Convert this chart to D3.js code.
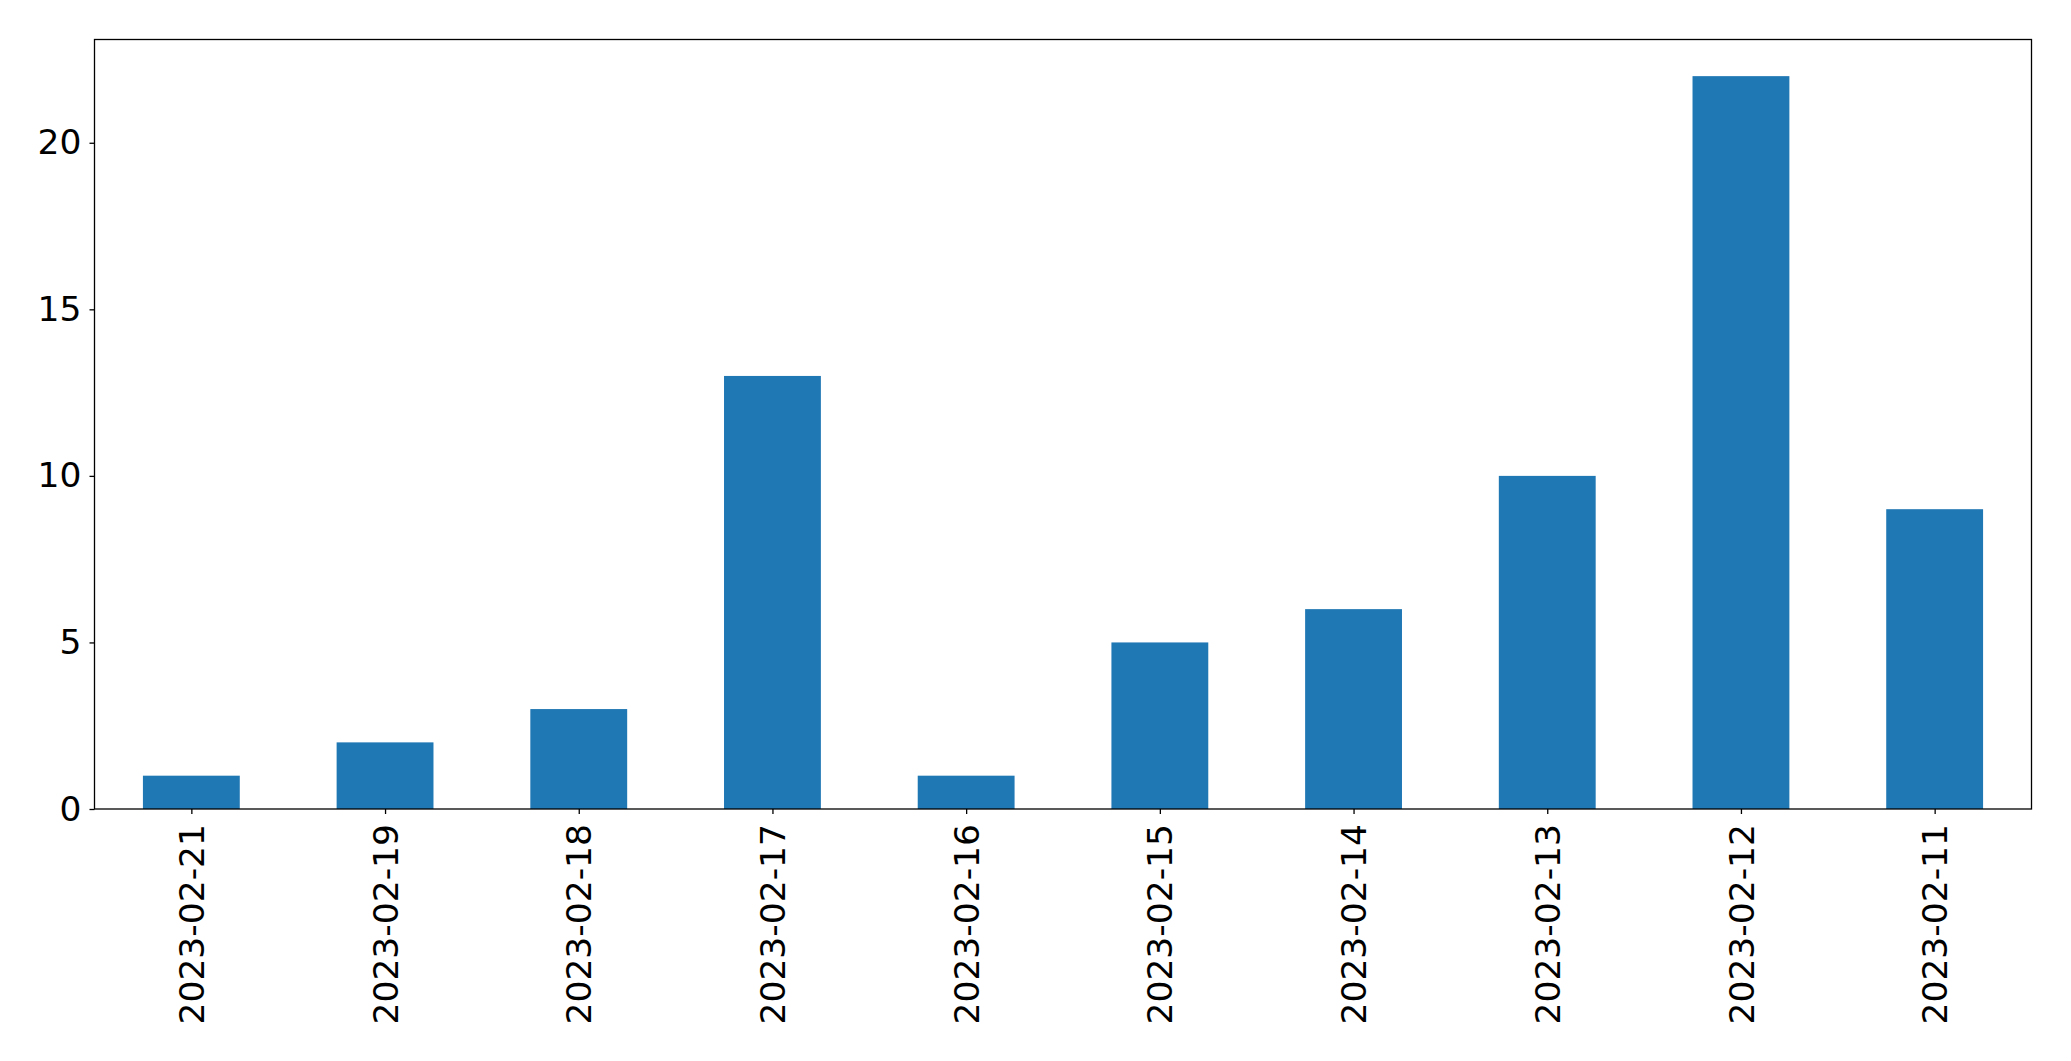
<!DOCTYPE html>
<html><head><meta charset="utf-8">
<script src="https://cdn.jsdelivr.net/npm/d3@7"></script>
<style>html,body{margin:0;padding:0;background:#fff;}svg{display:block;}</style>
</head><body>
<svg id="chart" width="2071" height="1061"></svg>
<script>
const categories = ["2023-02-21","2023-02-19","2023-02-18","2023-02-17","2023-02-16","2023-02-15","2023-02-14","2023-02-13","2023-02-12","2023-02-11"];
const values = [1,2,3,13,1,5,6,10,22,9];
const yTicks = [0,5,10,15,20];

const W = 2071, H = 1061;
const m = {left: 94.5, right: 2031.5, top: 39.5, bottom: 809};
const svg = d3.select("#chart");
const fontSize = 34.5;

const x = d3.scaleLinear().domain([-0.5, categories.length - 0.5]).range([m.left, m.right]);
const y = d3.scaleLinear().domain([0, 22 * 1.05]).range([m.bottom, m.top]);
const bw = 0.5;

svg.append("g").selectAll("rect").data(values).join("rect")
  .attr("x", (d,i) => x(i - bw/2))
  .attr("width", (d,i) => x(i + bw/2) - x(i - bw/2))
  .attr("y", d => y(d))
  .attr("height", d => y(0) - y(d))
  .attr("fill", "#1f77b4");

// Y axis
const yAxis = d3.axisLeft(y).tickValues(yTicks).tickSize(5).tickPadding(8).tickFormat(d3.format("d"));
const gy = svg.append("g").attr("transform", `translate(${m.left},0)`).call(yAxis);
gy.select(".domain").remove();
gy.selectAll("line").attr("stroke","#000").attr("stroke-width",1.3);
gy.selectAll("text").attr("font-family","DejaVu Sans").attr("font-size",fontSize).attr("fill","#000");

// X axis
const xAxis = d3.axisBottom(x).tickValues(d3.range(categories.length)).tickSize(5).tickFormat(i => categories[i]);
const gx = svg.append("g").attr("transform", `translate(0,${m.bottom})`).call(xAxis);
gx.select(".domain").remove();
gx.selectAll("line").attr("stroke","#000").attr("stroke-width",1.3);
gx.selectAll("text")
  .attr("font-family","DejaVu Sans").attr("font-size",fontSize).attr("fill","#000")
  .attr("transform","rotate(-90)")
  .attr("text-anchor","end")
  .attr("x", -15).attr("y", 0).attr("dy","0.35em");

// Frame
svg.append("rect").attr("x", m.left).attr("y", m.top)
  .attr("width", m.right - m.left).attr("height", m.bottom - m.top)
  .attr("fill","none").attr("stroke","#000").attr("stroke-width",1.3);
</script>
</body></html>
